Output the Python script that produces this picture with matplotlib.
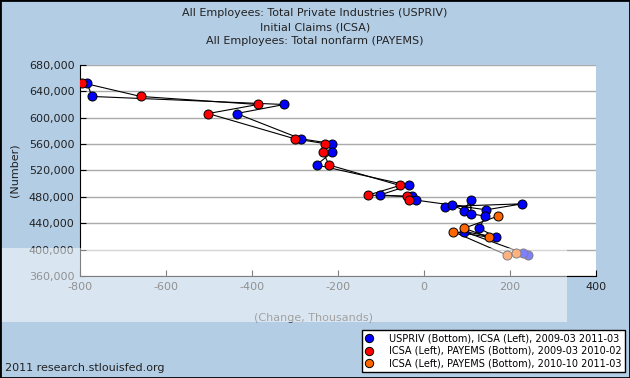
import matplotlib
matplotlib.use('Agg')
import matplotlib.pyplot as plt
from matplotlib.lines import Line2D
from matplotlib.patches import Rectangle
from matplotlib.ticker import FuncFormatter

plt.rcParams['axes.unicode_minus'] = False

# monthly points, 2009-03 .. 2011-03
months = ['2009-03', '2009-04', '2009-05', '2009-06', '2009-07', '2009-08', '2009-09',
          '2009-10', '2009-11', '2009-12', '2010-01', '2010-02', '2010-03', '2010-04',
          '2010-05', '2010-06', '2010-07', '2010-08', '2010-09', '2010-10', '2010-11',
          '2010-12', '2011-01', '2011-02', '2011-03']
icsa = [653100, 632300, 620100, 606400, 568000, 560800, 548100, 528400, 497300,
        482700, 480600, 475100, 460400, 469500, 465400, 468000, 459300, 475600,
        454300, 450800, 432500, 418800, 427400, 392000, 394500]
usprv_chg = [-784, -772, -325, -436, -286, -213, -213, -250, -35, -103, -28, -19,
             145, 229, 48, 65, 93, 109, 109, 143, 128, 168, 93, 242, 231]
# PAYEMS change, 2009-03 .. 2010-02
payems_early = [-795, -659, -386, -502, -300, -231, -235, -221, -56, -130, -40, -35]
# PAYEMS change, 2010-10 .. 2011-03
payems_late = [172, 93, 151, 67, 192, 215]

titles = ['All Employees: Total Private Industries (USPRIV)',
          'Initial Claims (ICSA)',
          'All Employees: Total nonfarm (PAYEMS)']
legend_labels = ['USPRIV (Bottom), ICSA (Left), 2009-03 2011-03',
                 'ICSA (Left), PAYEMS (Bottom), 2009-03 2010-02',
                 'ICSA (Left), PAYEMS (Bottom), 2010-10 2011-03']
colors = ['#0000FF', '#FF0000', '#FF6600']
bg = '#B3CDE5'

fig = plt.figure(figsize=(6.3, 3.78), dpi=100, facecolor=bg)
ax = fig.add_axes([80 / 630, 1 - 276 / 378, 516 / 630, 211 / 378])
ax.set_facecolor('white')

series = [
    (usprv_chg, icsa),
    (payems_early, icsa[:12]),
    (payems_late, icsa[-6:]),
]
for i, ((x, y), c) in enumerate(zip(series, colors)):
    ax.plot(x, y, color='black', lw=0.8, zorder=2)
    ax.plot(x, y, ls='none', marker='o', ms=6.5, mfc=c, mec='black', mew=0.7, zorder=3 + i)

ax.set_xlim(-800, 400)
ax.set_ylim(360000, 680000)
ax.set_xticks(range(-800, 401, 200))
ax.set_yticks(range(360000, 680001, 40000))
ax.yaxis.set_major_formatter(FuncFormatter(lambda v, p: f'{v:,.0f}'))
ax.yaxis.grid(True, color='#AAAAAA', lw=1)
ax.set_axisbelow(True)
for s in ['top', 'right']:
    ax.spines[s].set_visible(False)
for s in ['left', 'bottom']:
    ax.spines[s].set_color('black')
ax.tick_params(direction='in', length=4, labelsize=8, colors='black', labelcolor='#222222', pad=4)

for i, t in enumerate(titles):
    fig.text(0.5, 1 - (13 + 14 * i) / 378, t, ha='center', va='center', fontsize=8, color='#222222')

fig.text(14 / 630, 1 - 170 / 378, '(Number)', rotation=90, ha='center', va='center',
         fontsize=8, color='#222222')
fig.text(313 / 630, 1 - 318 / 378, '(Change, Thousands)', ha='center', va='center',
         fontsize=8, color='#444444')
fig.text(5 / 630, 1 - 368 / 378, '2011 research.stlouisfed.org', ha='left', va='center',
         fontsize=8, color='#222222')

handles = [Line2D([], [], ls='none', marker='o', ms=6, mfc=c, mec='black', mew=0.7) for c in colors]
leg = fig.legend(handles, legend_labels, loc='lower right', bbox_to_anchor=(0.995, 0.01),
                 fontsize=7, frameon=True, fancybox=False, edgecolor='black', framealpha=1,
                 borderpad=0.35, labelspacing=0.3, handletextpad=1.6, handlelength=0.8,
                 borderaxespad=0.2)
leg.get_frame().set_linewidth(1)

# faded photo band over the lower part of the picture
fig.add_artist(Rectangle((0, 1 - 322 / 378), 567 / 630, 74 / 378, transform=fig.transFigure,
                         facecolor='white', edgecolor='none', alpha=0.5, zorder=10))
fig.add_artist(Rectangle((0, 0), 1, 1, transform=fig.transFigure, facecolor='none',
                         edgecolor='black', lw=2, zorder=11))

fig.savefig('out.png', dpi=100, facecolor=bg)
